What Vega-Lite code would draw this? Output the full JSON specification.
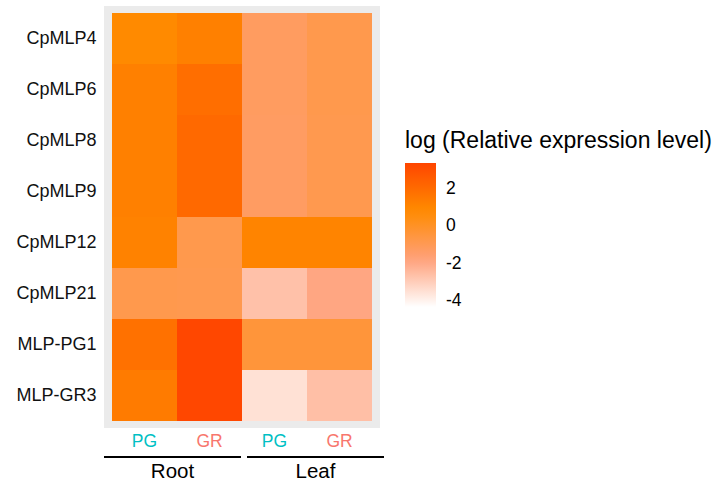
{
  "$schema": "https://vega.github.io/schema/vega-lite/v6.json",
  "padding": {"left": 15, "top": 6, "right": 5, "bottom": 5},
  "background": "white",
  "config": {"font": "Liberation Sans", "view": {"stroke": null}},
  "datasets": {
    "cells": [
      {"gene": "CpMLP4", "col": "Root PG", "value": 0.9},
      {"gene": "CpMLP4", "col": "Root GR", "value": 1.25},
      {"gene": "CpMLP4", "col": "Leaf PG", "value": -1.2},
      {"gene": "CpMLP4", "col": "Leaf GR", "value": -0.8},
      {"gene": "CpMLP6", "col": "Root PG", "value": 1.25},
      {"gene": "CpMLP6", "col": "Root GR", "value": 1.9},
      {"gene": "CpMLP6", "col": "Leaf PG", "value": -1.2},
      {"gene": "CpMLP6", "col": "Leaf GR", "value": -0.8},
      {"gene": "CpMLP8", "col": "Root PG", "value": 1.25},
      {"gene": "CpMLP8", "col": "Root GR", "value": 2.1},
      {"gene": "CpMLP8", "col": "Leaf PG", "value": -1.25},
      {"gene": "CpMLP8", "col": "Leaf GR", "value": -0.85},
      {"gene": "CpMLP9", "col": "Root PG", "value": 1.25},
      {"gene": "CpMLP9", "col": "Root GR", "value": 2.1},
      {"gene": "CpMLP9", "col": "Leaf PG", "value": -1.25},
      {"gene": "CpMLP9", "col": "Leaf GR", "value": -0.85},
      {"gene": "CpMLP12", "col": "Root PG", "value": 1.2},
      {"gene": "CpMLP12", "col": "Root GR", "value": -0.8},
      {"gene": "CpMLP12", "col": "Leaf PG", "value": 1.1},
      {"gene": "CpMLP12", "col": "Leaf GR", "value": 1.1},
      {"gene": "CpMLP21", "col": "Root PG", "value": -0.8},
      {"gene": "CpMLP21", "col": "Root GR", "value": -0.85},
      {"gene": "CpMLP21", "col": "Leaf PG", "value": -2.65},
      {"gene": "CpMLP21", "col": "Leaf GR", "value": -1.9},
      {"gene": "MLP-PG1", "col": "Root PG", "value": 1.8},
      {"gene": "MLP-PG1", "col": "Root GR", "value": 3.3},
      {"gene": "MLP-PG1", "col": "Leaf PG", "value": -0.4},
      {"gene": "MLP-PG1", "col": "Leaf GR", "value": -0.4},
      {"gene": "MLP-GR3", "col": "Root PG", "value": 1.45},
      {"gene": "MLP-GR3", "col": "Root GR", "value": 3.3},
      {"gene": "MLP-GR3", "col": "Leaf PG", "value": -3.5},
      {"gene": "MLP-GR3", "col": "Leaf GR", "value": -2.6}
    ],
    "tissues": [
      {"tissue": "Root"},
      {"tissue": "Leaf"}
    ]
  },
  "spacing": 6,
  "vconcat": [
    {
      "data": {"name": "cells"},
      "width": 276,
      "height": 422,
      "view": {"fill": "#EBEBEB", "stroke": null},
      "mark": {"type": "rect"},
      "encoding": {
        "x": {
          "field": "col", "type": "nominal",
          "sort": ["Root PG", "Root GR", "Leaf PG", "Leaf GR"],
          "scale": {"paddingInner": 0, "paddingOuter": 0.107, "round": true},
          "axis": {
            "title": null, "domain": false, "ticks": false, "labelAngle": 0,
            "labelExpr": "split(datum.label, ' ')[1]",
            "labelFontSize": 17.5, "labelPadding": 4,
            "labelColor": {"condition": {"test": "indexof(datum.value, 'PG') >= 0", "value": "#00BFC4"}, "value": "#F8766D"}
          }
        },
        "y": {
          "field": "gene", "type": "nominal",
          "sort": ["CpMLP4", "CpMLP6", "CpMLP8", "CpMLP9", "CpMLP12", "CpMLP21", "MLP-PG1", "MLP-GR3"],
          "scale": {"paddingInner": 0, "paddingOuter": 0.097, "round": true},
          "axis": {"title": null, "domain": false, "ticks": false, "labelFontSize": 18, "labelPadding": 8, "labelColor": "#111111"}
        },
        "color": {
          "field": "value", "type": "quantitative",
          "scale": {
            "domain": [-4.32, -1.75, 0.82, 3.39],
            "range": ["#FFFFFF", "#FFA07A", "#FF8C00", "#FF4500"],
            "interpolate": "rgb"
          },
          "legend": {
            "type": "gradient",
            "orient": "none", "legendX": 301, "legendY": 124,
            "direction": "vertical",
            "title": "log (Relative expression level)",
            "titleFontSize": 23, "titleFontWeight": "normal", "titleColor": "black",
            "titlePadding": 10, "titleLimit": 400,
            "gradientLength": 144, "gradientThickness": 31, "gradientStrokeWidth": 0,
            "labelFontSize": 17.5, "labelColor": "black", "labelOffset": 10,
            "labelExpr": "'' + datum.value",
            "values": [-4, -2, 0, 2]
          }
        }
      }
    },
    {
      "data": {"name": "tissues"},
      "width": 280,
      "height": 2,
      "mark": {"type": "bar", "color": "black"},
      "encoding": {
        "x": {
          "field": "tissue", "type": "nominal",
          "sort": ["Root", "Leaf"],
          "scale": {"paddingInner": 0.042, "paddingOuter": 0},
          "axis": {"title": null, "domain": false, "ticks": false, "labelAngle": 0, "labelFontSize": 20.5, "labelColor": "black", "labelPadding": 3}
        }
      }
    }
  ]
}
